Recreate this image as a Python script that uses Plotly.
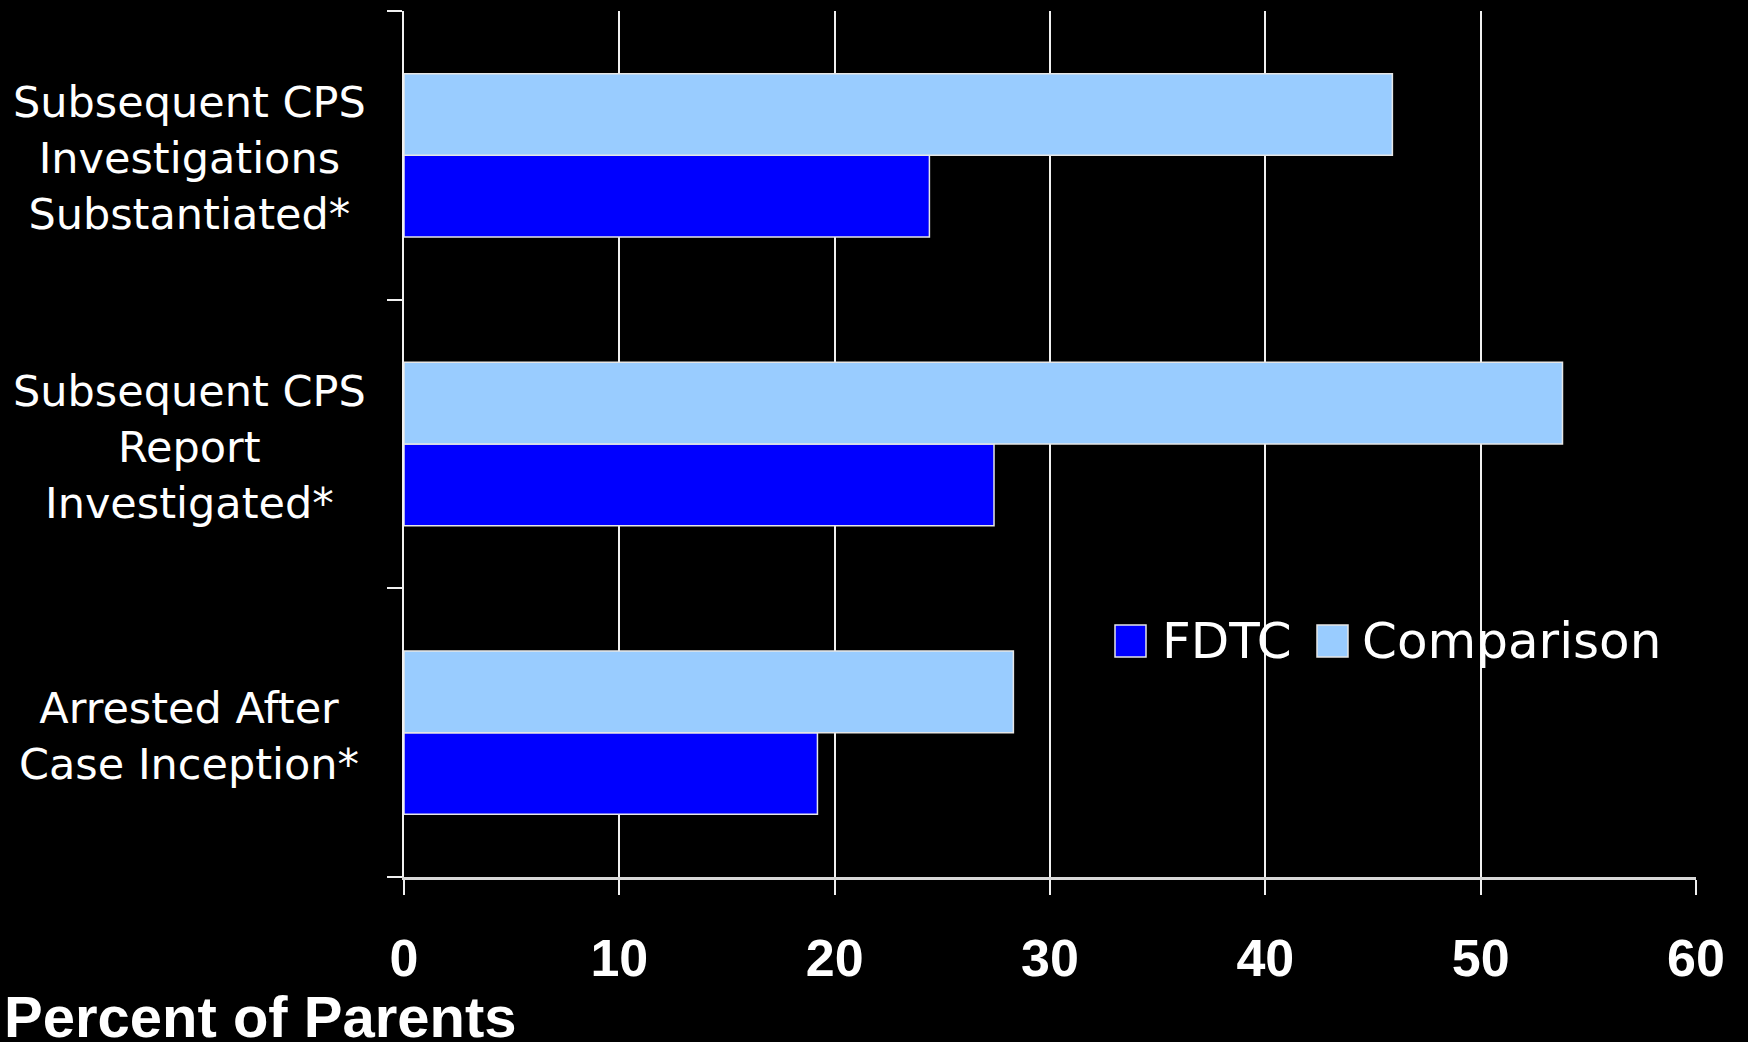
import plotly.graph_objects as go

# Categories listed top to bottom as they appear in the chart
categories = ["Substantiated", "Investigated", "Arrested"]
category_labels = [
    "Subsequent CPS<br>Investigations<br>Substantiated*",
    "Subsequent CPS<br>Report<br>Investigated*",
    "Arrested After<br>Case Inception*",
]
fdtc = [24.4, 27.4, 19.2]
comparison = [45.9, 53.8, 28.3]
x_ticks = [0, 10, 20, 30, 40, 50, 60]
series_names = ["FDTC", "Comparison"]
series_colors = ["#0000FF", "#99CCFF"]

W, H = 1748, 1042
ML, MR, MT, MB = 404, 52, 11, 165
PW = W - ML - MR
PH = H - MT - MB

fig = go.Figure()
for name, vals, col in zip(series_names, [fdtc, comparison], series_colors):
    fig.add_trace(go.Bar(
        y=categories, x=vals, name=name, orientation="h",
        marker=dict(color=col, line=dict(color="#E6E6E6", width=1.5)),
        showlegend=False,
    ))

tick_font = dict(family="Liberation Sans, Arial, sans-serif", size=52, color="white", weight="bold")
label_font = dict(family="DejaVu Sans, Tahoma, sans-serif", size=43, color="white")

fig.update_layout(
    width=W, height=H,
    margin=dict(l=ML, r=MR, t=MT, b=MB, pad=0),
    paper_bgcolor="black", plot_bgcolor="black",
    barmode="group", bargap=0.434, bargroupgap=0,
    xaxis=dict(
        range=[0, 60], tickvals=x_ticks, ticktext=[str(v) for v in x_ticks],
        showgrid=True, gridcolor="#F0F0F0", gridwidth=1.5,
        showline=True, linecolor="#D8D8D8", linewidth=2.5,
        ticks="outside", ticklen=15, tickcolor="#F0F0F0", tickwidth=1.5,
        tickfont=tick_font, ticklabelstandoff=19, zeroline=False,
    ),
    yaxis=dict(
        categoryorder="array", categoryarray=categories[::-1],
        showticklabels=False, tickson="boundaries",
        ticks="outside", ticklen=15, tickcolor="#F0F0F0", tickwidth=1.5,
        showline=True, linecolor="#F0F0F0", linewidth=1.5,
        showgrid=False, zeroline=False,
    ),
)

for cat, lab in zip(categories, category_labels):
    fig.add_annotation(
        x=(189 - ML) / PW, xref="paper", y=cat, yref="y", yshift=-3,
        text=lab, showarrow=False, xanchor="center", yanchor="middle",
        align="center", font=label_font,
    )

# Axis title
fig.add_annotation(
    x=(2 - ML) / PW, xref="paper", y=(MT + PH - 1016) / PH, yref="paper",
    text="Percent of Parents", showarrow=False, xanchor="left", yanchor="middle",
    font=dict(family="Liberation Sans, Arial, sans-serif", size=58, color="white", weight="bold"),
)

# Custom legend
leg_y = (MT + PH - 641) / PH
sq_h = 32 / PH
for name, col, sx, tx in zip(series_names, series_colors, [1115, 1317], [1160, 1360]):
    fig.add_shape(
        type="rect", xref="paper", yref="paper",
        x0=(sx - ML) / PW, x1=(sx + 31 - ML) / PW,
        y0=leg_y - sq_h / 2, y1=leg_y + sq_h / 2,
        fillcolor=col, line=dict(color="#E6E6E6", width=1.5),
    )
    fig.add_annotation(
        x=(tx - ML) / PW, xref="paper", y=leg_y, yref="paper",
        text=name, showarrow=False, xanchor="left", yanchor="middle",
        font=dict(family="DejaVu Sans, Tahoma, sans-serif", size=50, color="white"),
    )

fig.write_html(
    "out.html",
    config={"displayModeBar": False},
    post_script="document.body.style.margin='0';document.body.style.background='black';document.body.style.overflow='hidden';",
)
